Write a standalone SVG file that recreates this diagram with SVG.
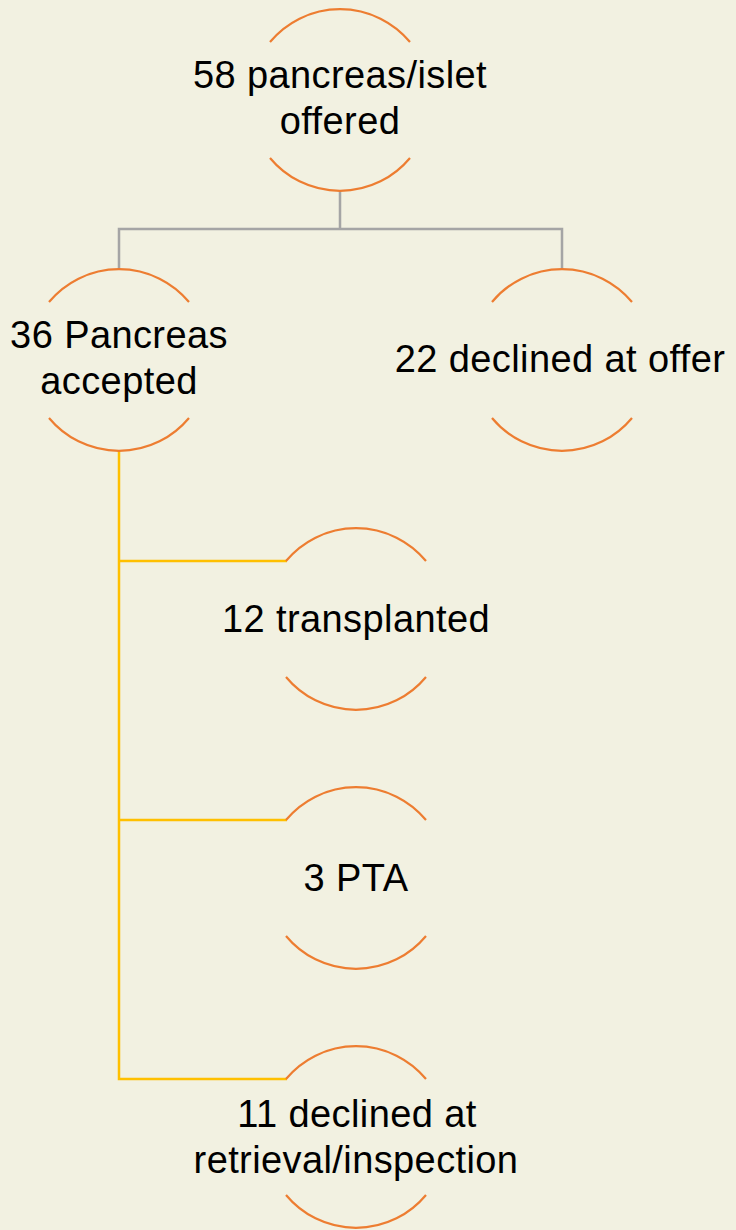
<svg xmlns="http://www.w3.org/2000/svg" xmlns:xlink="http://www.w3.org/1999/xlink" width="736" height="1230" viewBox="0 0 736 1230">
  <style>
    .arc { fill: none; stroke: #ED7D31; stroke-width: 2.2; }
    .lbl { font-family: "Liberation Sans", Arial, sans-serif; font-size: 38px; letter-spacing: 0.4px; fill: #000; text-anchor: middle; }
    .gray { fill: none; stroke: #A5A5A5; stroke-width: 2.5; }
    .yel { fill: none; stroke: #FFC000; stroke-width: 2.5; }
  </style>
  <defs>
    <g id="arcs">
      <path class="arc" d="M -70 -58 A 91 91 0 0 1 70 -58"/>
      <path class="arc" d="M -70 58 A 91 91 0 0 0 70 58"/>
    </g>
  </defs>
  <rect x="0" y="0" width="736" height="1230" fill="#F2F1E1"/>
  <g id="connectors">
    <path class="gray" d="M 340 191 V 229 M 119 269 V 229 H 562 V 269"/>
    <path class="yel" d="M 119 451 V 1079 H 287 M 119 561 H 287 M 119 820 H 287"/>
  </g>
  <g id="n-offered">
    <use xlink:href="#arcs" transform="translate(340,100)"/>
    <text class="lbl" x="340" y="88">58 pancreas/islet</text>
    <text class="lbl" x="340" y="134">offered</text>
  </g>
  <g id="n-accepted">
    <use xlink:href="#arcs" transform="translate(119,360)"/>
    <text class="lbl" x="119" y="348">36 Pancreas</text>
    <text class="lbl" x="119" y="394">accepted</text>
  </g>
  <g id="n-declined-offer">
    <use xlink:href="#arcs" transform="translate(562,360)"/>
    <text class="lbl" x="560" y="372">22 declined at offer</text>
  </g>
  <g id="n-transplanted">
    <use xlink:href="#arcs" transform="translate(356,619)"/>
    <text class="lbl" x="356" y="632">12 transplanted</text>
  </g>
  <g id="n-pta">
    <use xlink:href="#arcs" transform="translate(356,878)"/>
    <text class="lbl" x="356" y="891">3 PTA</text>
  </g>
  <g id="n-declined-retrieval">
    <use xlink:href="#arcs" transform="translate(356,1137)"/>
    <text class="lbl" x="357" y="1127">11 declined at</text>
    <text class="lbl" x="356" y="1173">retrieval/inspection</text>
  </g>
</svg>
